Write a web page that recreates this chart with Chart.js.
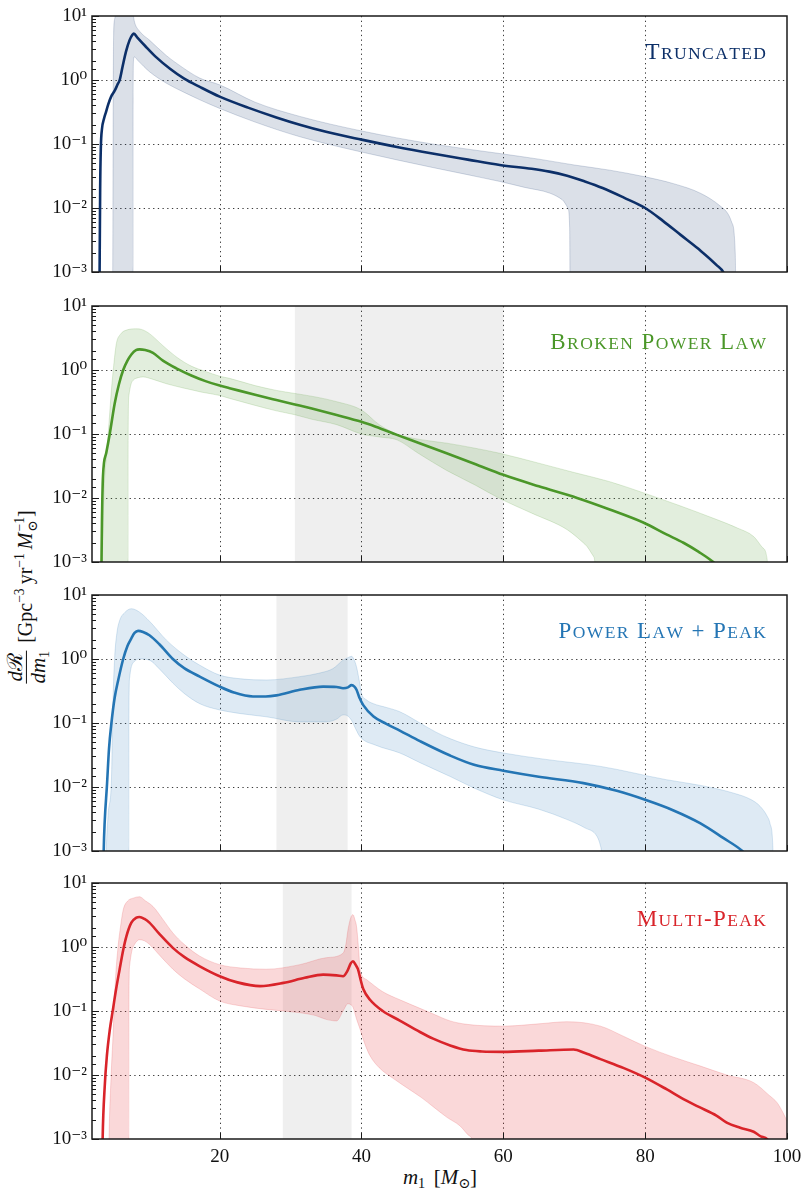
<!DOCTYPE html>
<html>
<head>
<meta charset="utf-8">
<script src="https://cdn.jsdelivr.net/npm/chart.js@4.4.1/dist/chart.umd.min.js"></script>
<style>
  body { margin: 0; background: #fff; }
  #page { position: relative; width: 812px; height: 1200px; overflow: hidden; font-family: 'Liberation Serif', 'DejaVu Serif', serif; color: #111; }
  .panel { position: absolute; left: 0; }
  #ytitle { position: absolute; left: 27px; top: 597px; transform: translate(-50%, -50%) rotate(-90deg); white-space: nowrap; font-size: 20px; display: flex; align-items: center; }
  .frac { display: inline-flex; flex-direction: column; align-items: center; margin-right: 8px; font-size: 21px; }
  .frac .num { border-bottom: 1px solid #111; padding: 0 2px; line-height: 1.05; }
  .frac .den { line-height: 1.1; }
  sup, sub { font-size: 0.68em; }
  sup { vertical-align: 0.55em; line-height: 0; }
  sub { vertical-align: -0.3em; line-height: 0; }
  .ss { display: inline-flex; flex-direction: column; font-size: 0.68em; line-height: 0.95; vertical-align: middle; margin-left: 1px; }
  #xtitle { position: absolute; left: 440px; top: 1177px; transform: translate(-50%, -50%); font-size: 21px; white-space: nowrap; }
</style>
</head>
<body>
<div id="page">
  <div id="ytitle"><span class="frac"><span class="num"><i>d</i>ℛ</span><span class="den"><i>dm</i><sub>1</sub></span></span><span>[Gpc<sup>−3</sup>&#8201;yr<sup>−1</sup>&#8201;<i>M</i><span class="ss"><span>−1</span><span>⊙</span></span>]</span></div>
  <div id="xtitle"><i>m</i><sub>1</sub>&#8201;&#8201;[<i>M</i><sub>⊙</sub>]</div>
</div>
<script>
// axis ranges and ticks
const X_MIN = 2, X_MAX = 100;
const Y_MIN = 1e-3, Y_MAX = 10;
const xTickValues = [20, 40, 60, 80, 100];
const xGridValues = [20, 40, 60, 80];
const yGridValues = [1e-2, 1e-1, 1];

const panelLabels = ['Truncated', 'Broken Power Law', 'Power Law + Peak', 'Multi-Peak'];
// shaded mass ranges (M_sun), none on the first panel
const graySpans = [null, [30.6, 60.0], [28.0, 38.05], [28.9, 38.6]];

// [m1, dR/dm1]
const truncMedian = [[3.05,0.0004],[3.15,0.02],[3.25,0.09],[3.4,0.17],[3.7,0.25],[3.95,0.31],[4.3,0.42],[4.7,0.55],[5.2,0.68],[5.6,0.85],[5.9,1.0],[6.3,1.6],[6.8,2.8],[7.3,4.2],[7.7,5.1],[7.9,5.3],[8.4,4.6],[9.5,3.4],[11,2.3],[13,1.5],[15,1.05],[17.2,0.78],[20,0.55],[24,0.37],[28,0.26],[31.3,0.2],[35,0.155],[40,0.117],[45,0.09],[50,0.071],[55,0.057],[59.5,0.047],[64,0.041],[66.5,0.037],[69,0.032],[71.5,0.026],[74,0.0205],[77,0.0145],[80,0.01],[82.5,0.0063],[85,0.0038],[87.5,0.0023],[90,0.0013],[91.2,0.0009],[91.6,0.0006]];
const truncLower = [[4.9,0.0001],[7.78,0.0001],[7.8,0.5],[7.85,2.0],[7.95,2.3],[8.5,2.0],[10.1,1.35],[12.5,0.89],[15,0.64],[17.2,0.49],[20,0.36],[25,0.22],[31.3,0.13],[40,0.075],[50,0.043],[59.5,0.026],[63,0.021],[66.6,0.017],[68.3,0.0135],[69.1,0.01],[69.35,0.005],[69.45,0.0001],[92.8,0.0001]];
const truncUpper = [[4.9,0.0004],[4.95,0.01],[5.0,1],[5.05,5],[5.2,9],[5.5,11.5],[6.5,13],[7.5,12.5],[7.8,10.5],[8.0,8],[8.7,5.8],[10.1,4.2],[12.5,2.4],[14,1.8],[17.2,1.07],[20,0.84],[25,0.45],[31.3,0.27],[40,0.16],[50,0.1],[59.5,0.071],[65,0.058],[70,0.047],[75,0.039],[79.8,0.031],[84,0.024],[87.8,0.017],[90.6,0.0107],[92.2,0.006],[92.7,0.002],[92.8,0.0004]];

const bplMedian = [[3.3,0.0004],[3.4,0.004],[3.55,0.022],[4.0,0.05],[4.5,0.1],[5.2,0.3],[5.8,0.6],[6.4,1.0],[7.0,1.4],[7.55,1.75],[8.2,2.05],[8.7,2.1],[9.5,2.05],[10.6,1.85],[12,1.4],[13.9,1.06],[16,0.82],[18,0.67],[20,0.57],[21.4,0.52],[25,0.41],[28,0.34],[30.6,0.29],[33,0.25],[36.5,0.198],[40,0.155],[42,0.13],[45,0.097],[48,0.073],[52,0.05],[56,0.034],[60,0.023],[65,0.0152],[70.4,0.01],[75,0.0066],[79.8,0.0041],[83,0.0027],[85.4,0.002],[87.5,0.00145],[89.6,0.001],[90.5,0.0008]];
const bplLower = [[3.4,0.0001],[7.08,0.0001],[7.1,0.1],[7.2,0.4],[7.5,0.6],[7.8,0.69],[8.5,0.76],[9.2,0.78],[10.5,0.72],[12.5,0.61],[15,0.52],[17.5,0.45],[20,0.4],[21.4,0.36],[25,0.28],[28,0.23],[30.6,0.2],[33,0.17],[36.5,0.14],[40,0.1],[42.5,0.09],[45,0.081],[48,0.05],[52,0.027],[56,0.016],[59.5,0.0098],[64,0.0058],[69,0.0032],[71.5,0.0019],[72.7,0.00123],[73,0.0006],[73.05,0.0001],[97.4,0.0001]];
const bplUpper = [[3.4,0.0004],[3.45,0.001],[3.7,0.013],[4.03,0.045],[4.4,0.15],[4.74,0.49],[5.1,1.3],[5.44,2.6],[6.0,3.6],[6.85,4.2],[8.27,4.4],[9.0,4.3],[10.1,3.7],[12,2.4],[13.9,1.6],[16,1.15],[18,0.95],[20,0.8],[21.4,0.74],[25,0.57],[28,0.48],[30.6,0.43],[33.5,0.38],[36.5,0.32],[40,0.237],[42.5,0.14],[45,0.1],[48,0.083],[52,0.072],[56,0.06],[59.5,0.05],[65,0.035],[70,0.025],[75,0.018],[79.8,0.012],[85,0.0075],[90.1,0.0046],[93,0.0034],[95.3,0.0025],[96.5,0.0017],[97.2,0.0011],[97.4,0.0004]];

const pppMedian = [[3.6,0.0004],[3.65,0.001],[3.8,0.003],[4.1,0.0102],[4.4,0.04],[4.74,0.1],[5.2,0.25],[5.7,0.47],[6.4,1.0],[7.0,1.6],[7.55,2.1],[8.0,2.55],[8.5,2.75],[9.2,2.65],[10.1,2.35],[11.5,1.7],[13.4,1.0],[15,0.72],[17.2,0.53],[20,0.37],[22,0.3],[24.7,0.26],[26.5,0.26],[28,0.27],[31.3,0.33],[34.6,0.37],[36.5,0.365],[37.4,0.35],[38.1,0.36],[38.6,0.39],[39.0,0.37],[39.3,0.33],[39.7,0.25],[40.25,0.19],[41.7,0.126],[43.5,0.097],[45.4,0.076],[48.25,0.052],[52.5,0.031],[56,0.022],[60,0.018],[65,0.0145],[71.3,0.0115],[76,0.0087],[80,0.0063],[84,0.0043],[87.8,0.0027],[91,0.0016],[93.7,0.001],[94.5,0.0008]];
const pppLower = [[3.9,0.0001],[7.18,0.0001],[7.2,0.1],[7.3,0.5],[7.5,0.72],[8.0,0.92],[8.7,1.0],[10.1,0.96],[11.5,0.7],[13.4,0.42],[15,0.29],[17.2,0.2],[20,0.16],[23,0.14],[26.6,0.125],[31.3,0.104],[35,0.104],[36.5,0.115],[37.4,0.134],[38.0,0.13],[38.6,0.11],[39.2,0.08],[39.8,0.061],[42,0.045],[45.4,0.034],[48.25,0.024],[52.5,0.0146],[56,0.0095],[60,0.0063],[65,0.0045],[69,0.0031],[71.5,0.0023],[73.2,0.0017],[73.7,0.0012],[73.9,0.0006],[73.95,0.0001],[98.1,0.0001]];
const pppUpper = [[3.9,0.0004],[4.0,0.001],[4.3,0.004],[4.74,0.013],[4.95,0.2],[5.2,1.07],[5.5,2.5],[5.9,4.0],[6.6,5.3],[7.55,6.1],[8.7,5.4],[10.1,3.9],[12.5,1.97],[15,1.15],[17.2,0.8],[20,0.56],[23,0.49],[26.6,0.47],[31.3,0.53],[34,0.6],[36,0.71],[37.4,0.96],[38.1,1.05],[38.6,1.1],[39.0,0.95],[39.3,0.75],[39.7,0.45],[40.0,0.29],[40.7,0.23],[41.7,0.2],[43.5,0.175],[45.4,0.15],[48.25,0.1],[50.5,0.072],[52.5,0.057],[56,0.042],[60,0.034],[66,0.027],[73.7,0.021],[83,0.013],[88,0.0105],[92.5,0.008],[95,0.0063],[96.2,0.005],[97.2,0.0035],[97.6,0.0027],[98.0,0.0012],[98.1,0.0004]];

const mpMedian = [[3.45,0.0004],[3.5,0.001],[3.8,0.0068],[4.1,0.02],[4.5,0.05],[4.96,0.107],[5.4,0.22],[5.9,0.45],[6.4,0.9],[6.85,1.47],[7.55,2.4],[8.2,2.85],[8.7,2.95],[9.4,2.75],[10.1,2.4],[11.5,1.6],[13.4,0.97],[15,0.7],[17.2,0.5],[20,0.35],[22.5,0.28],[25.7,0.245],[29,0.275],[32,0.33],[34.6,0.37],[36.5,0.36],[37.4,0.35],[38.0,0.42],[38.5,0.56],[38.8,0.6],[39.2,0.52],[39.5,0.45],[39.9,0.3],[40.25,0.22],[41.2,0.15],[43,0.1],[45.4,0.071],[48.25,0.047],[50.1,0.037],[52.5,0.029],[54.8,0.0245],[57,0.0233],[60,0.023],[65,0.024],[69.9,0.025],[71.5,0.022],[73.7,0.0177],[77,0.0128],[80,0.0091],[83,0.006],[85.4,0.0042],[87.5,0.0032],[90.1,0.0023],[91.5,0.0018],[93.4,0.0015],[95.3,0.0013],[96.3,0.0011],[97.2,0.001],[97.6,0.0008]];
const mpLower = [[4.35,0.0001],[7.18,0.0001],[7.2,0.1],[7.3,0.5],[7.6,0.85],[8.0,1.1],[8.7,1.3],[9.4,1.25],[10.1,1.1],[11.5,0.75],[13.4,0.45],[15,0.32],[17.2,0.22],[20,0.143],[23,0.12],[26.6,0.106],[31.3,0.094],[33.5,0.085],[35,0.074],[36.5,0.07],[37.4,0.1],[38.1,0.13],[38.5,0.125],[38.8,0.115],[39.3,0.075],[39.8,0.052],[40.5,0.03],[41.2,0.02],[42.5,0.013],[44.5,0.0088],[46.5,0.0062],[48.5,0.0044],[50.1,0.0032],[52,0.0022],[53.9,0.0016],[55.3,0.0011],[55.8,0.0006],[55.85,0.0001],[100,0.0001]];
const mpUpper = [[4.35,0.0004],[4.4,0.001],[4.7,0.01],[4.96,0.04],[5.3,0.3],[5.67,1.0],[6.0,2.0],[6.4,3.8],[7.0,5.2],[7.8,5.8],[8.7,6.1],[9.5,5.3],[10.6,4.3],[12,2.7],[13.4,1.66],[15,1.1],[17.2,0.72],[20,0.53],[23,0.47],[26.6,0.45],[31.3,0.53],[35,0.68],[37.4,0.8],[37.8,1.1],[38.1,1.87],[38.5,2.9],[38.8,3.2],[39.1,2.6],[39.3,2.1],[39.6,0.9],[39.8,0.45],[40.7,0.31],[43,0.2],[45.4,0.15],[48.25,0.11],[50.1,0.09],[52.5,0.07],[54.8,0.062],[60,0.058],[65,0.063],[69,0.068],[73.7,0.058],[77,0.04],[80,0.028],[84,0.019],[87.8,0.0138],[91.5,0.01],[95.3,0.0076],[97.5,0.0048],[98.6,0.0037],[99.5,0.0025],[100,0.0019]];

const panelSeries = [
  [truncMedian, truncLower, truncUpper],
  [bplMedian, bplLower, bplUpper],
  [pppMedian, pppLower, pppUpper],
  [mpMedian, mpLower, mpUpper],
];

// styling
const FONT = "'Liberation Serif', 'DejaVu Serif', serif";
const lineColors = ['#0c2f68', '#4b9729', '#2475b4', '#d9242a'];
const bandColors = ['rgba(12,47,104,0.15)', 'rgba(75,151,41,0.16)', 'rgba(36,117,180,0.15)', 'rgba(228,40,46,0.18)'];
const edgeColors = ['rgba(12,47,104,0.22)', 'rgba(75,151,41,0.22)', 'rgba(36,117,180,0.22)', 'rgba(228,40,46,0.22)'];
const SPAN_COLOR = 'rgba(0,0,0,0.062)';
const AREA_TOPS = [16, 306, 595, 883];
const AREA_H = 256, AREA_LEFT = 92, AREA_RIGHT = 787, PAD = 14, XAXIS_H = 44;

const supMap = { '-': '⁻', '0': '⁰', '1': '¹', '2': '²', '3': '³' };
function isDecade(v) {
  const l = Math.log10(v);
  return Math.abs(l - Math.round(l)) < 1e-6;
}
function decadeLabel(v) {
  if (!isDecade(v)) return '';
  const e = Math.round(Math.log10(v));
  return '10' + String(e).split('').map(c => supMap[c]).join('');
}
const toXY = arr => arr.map(([x, y]) => ({ x, y }));

// small caps by hand: lower-case letters drawn as smaller capitals
function drawSmallCaps(ctx, text, right, baseline, big, small, gap, color) {
  const parts = [];
  for (const ch of text) {
    const low = ch !== ch.toUpperCase();
    parts.push({ s: low ? ch.toUpperCase() : ch, f: `${low ? small : big}px ${FONT}` });
  }
  let w = 0;
  parts.forEach(p => { ctx.font = p.f; p.w = ctx.measureText(p.s).width + gap; w += p.w; });
  let x = right - (w - gap);
  ctx.fillStyle = color;
  ctx.textBaseline = 'alphabetic';
  ctx.textAlign = 'left';
  parts.forEach(p => { ctx.font = p.f; ctx.fillText(p.s, x, baseline); x += p.w; });
}

function decoPlugin(i) {
  return {
    id: 'deco' + i,
    beforeDatasetsDraw(chart) {
      const { ctx, chartArea: a, scales: { x, y } } = chart;
      ctx.save();
      const span = graySpans[i];
      if (span) {
        const x0 = x.getPixelForValue(span[0]), x1 = x.getPixelForValue(span[1]);
        ctx.fillStyle = SPAN_COLOR;
        ctx.fillRect(x0, a.top, x1 - x0, a.bottom - a.top);
      }
      ctx.strokeStyle = '#3a3a3a';
      ctx.lineWidth = 1;
      ctx.setLineDash([1.3, 3.4]);
      xGridValues.forEach(v => {
        const px = Math.round(x.getPixelForValue(v)) + 0.5;
        ctx.beginPath(); ctx.moveTo(px, a.top); ctx.lineTo(px, a.bottom); ctx.stroke();
      });
      yGridValues.forEach(v => {
        const py = Math.round(y.getPixelForValue(v)) + 0.5;
        ctx.beginPath(); ctx.moveTo(a.left, py); ctx.lineTo(a.right, py); ctx.stroke();
      });
      ctx.restore();
    },
    afterDatasetsDraw(chart) {
      const { ctx, chartArea: a, scales: { x, y } } = chart;
      ctx.save();
      ctx.strokeStyle = '#1a1a1a';
      ctx.lineWidth = 1;
      // inward ticks on the log axis, long at each decade
      y.ticks.forEach(t => {
        const py = Math.round(y.getPixelForValue(t.value)) + 0.5;
        const len = isDecade(t.value) ? 7 : 4;
        ctx.beginPath(); ctx.moveTo(a.left, py); ctx.lineTo(a.left + len, py); ctx.stroke();
      });
      xTickValues.forEach(v => {
        const px = Math.round(x.getPixelForValue(v)) + 0.5;
        ctx.beginPath(); ctx.moveTo(px, a.bottom); ctx.lineTo(px, a.bottom - 6); ctx.stroke();
      });
      ctx.lineWidth = 1.5;
      ctx.strokeRect(a.left, a.top, a.right - a.left, a.bottom - a.top);
      drawSmallCaps(ctx, panelLabels[i], a.right - 21, a.top + 43, 23, 17.5, 1.4, lineColors[i]);
      ctx.restore();
    }
  };
}

const page = document.getElementById('page');
panelSeries.forEach(([median, lower, upper], i) => {
  const last = i === panelSeries.length - 1;
  const wrap = document.createElement('div');
  wrap.className = 'panel';
  wrap.style.top = (AREA_TOPS[i] - PAD) + 'px';
  const canvas = document.createElement('canvas');
  canvas.width = 812;
  canvas.height = PAD + AREA_H + (last ? XAXIS_H : PAD);
  wrap.appendChild(canvas);
  page.appendChild(wrap);

  new Chart(canvas, {
    type: 'line',
    data: {
      datasets: [
        { data: toXY(median), borderColor: lineColors[i], borderWidth: 2.6, pointRadius: 0, fill: false, cubicInterpolationMode: 'monotone' },
        { data: toXY(lower), borderColor: edgeColors[i], borderWidth: 0.8, pointRadius: 0, fill: false, cubicInterpolationMode: 'monotone' },
        { data: toXY(upper), borderColor: edgeColors[i], borderWidth: 0.8, pointRadius: 0, fill: 1, backgroundColor: bandColors[i], cubicInterpolationMode: 'monotone' },
      ]
    },
    options: {
      responsive: false,
      animation: false,
      devicePixelRatio: 1,
      events: [],
      layout: { padding: { top: PAD, right: 812 - AREA_RIGHT, bottom: last ? 0 : PAD, left: 0 } },
      plugins: { legend: { display: false }, tooltip: { enabled: false } },
      scales: {
        x: {
          type: 'linear', min: X_MIN, max: X_MAX, display: last,
          grid: { display: false, drawTicks: false }, border: { display: false },
          afterBuildTicks: s => { s.ticks = xTickValues.map(v => ({ value: v })); },
          ticks: { font: { family: FONT, size: 19 }, color: '#111', padding: 7, maxRotation: 0, autoSkip: false },
          afterFit: s => { s.height = last ? XAXIS_H : 0; s.paddingLeft = 0; s.paddingRight = 0; }
        },
        y: {
          type: 'logarithmic', min: Y_MIN, max: Y_MAX,
          grid: { display: false, drawTicks: false }, border: { display: false },
          ticks: { callback: v => decadeLabel(v), autoSkip: false, font: { family: FONT, size: 19 }, color: '#111', padding: 5 },
          afterFit: s => { s.width = AREA_LEFT; s.paddingTop = 0; s.paddingBottom = 0; }
        }
      }
    },
    plugins: [decoPlugin(i)]
  });
});
</script>
</body>
</html>
